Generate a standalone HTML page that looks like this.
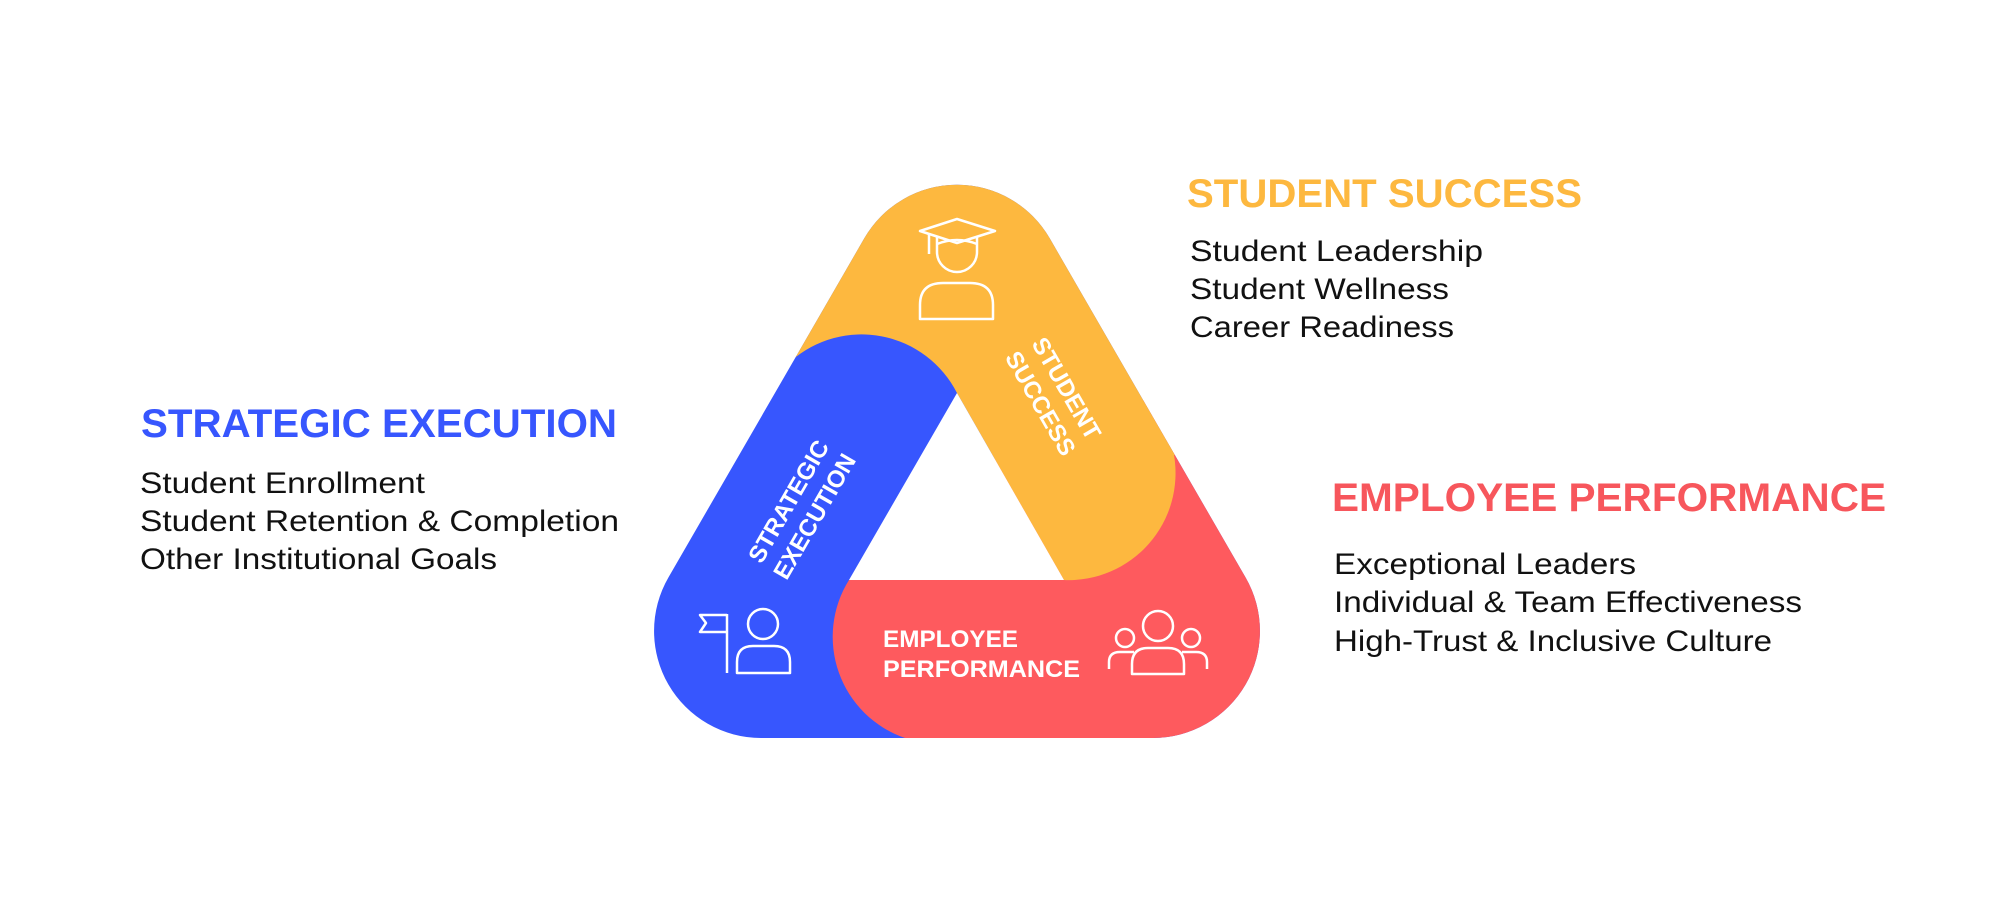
<!DOCTYPE html>
<html><head><meta charset="utf-8"><style>
html,body{margin:0;padding:0;background:#fff;}
svg{display:block;}
text{font-family:"Liberation Sans",sans-serif;}
</style></head><body>
<svg width="2000" height="903" viewBox="0 0 2000 903" xmlns="http://www.w3.org/2000/svg">
<defs>
<clipPath id="outer">
<path d="M864.3 238.3 A107 107 0 0 1 1049.7 238.3 L1245.6 577.5 A107 107 0 0 1 1152.9 738 L761.1 738 A107 107 0 0 1 668.4 577.5 Z"/>
</clipPath>
</defs>
<g clip-path="url(#outer)">
<rect x="600" y="150" width="800" height="650" fill="#3756FE"/>
<path d="M849 580 A107 107 0 0 0 905 738 L905 800 L1400 800 L1400 400 L1064 400 Z" fill="#FE5A5E"/>
<path d="M957 393 A107 107 0 0 0 791 361 L740 380 L740 100 L1400 100 L1400 455 L1174 455 A107 107 0 0 1 1064 580 Z" fill="#FDB83F"/>
</g>
<polygon points="957,393 849,580 1064,580" fill="#fff"/>

<!-- band labels -->
<g fill="#fff" font-weight="bold" font-size="24">
<g transform="translate(1055,395) rotate(60)">
<text x="0" y="-5" text-anchor="middle">STUDENT</text>
<text x="0" y="25" text-anchor="middle">SUCCESS</text>
</g>
<g transform="translate(800,508) rotate(-60)">
<text x="0" y="-5" text-anchor="middle">STRATEGIC</text>
<text x="0" y="25" text-anchor="middle">EXECUTION</text>
</g>
<text x="883" y="647" textLength="135" lengthAdjust="spacingAndGlyphs">EMPLOYEE</text>
<text x="883" y="677" textLength="197" lengthAdjust="spacingAndGlyphs">PERFORMANCE</text>
</g>

<!-- icons -->
<g fill="none" stroke="#fff" stroke-width="2.5" stroke-linejoin="round">
<!-- grad -->
<path d="M920 231 L957 219 L995 231 L957 243 Z"/>
<line x1="929" y1="234" x2="929" y2="254"/>
<path d="M937 237 L937 252 A20 20 0 1 0 977 252 L977 237"/>
<path d="M937 244 Q957 236 977 244"/>
<path d="M920 319 L920 305 Q920 283 943 283 L970 283 Q993 283 993 305 L993 319 Z"/>
<!-- flag person -->
<line x1="727" y1="614" x2="727" y2="673"/>
<path d="M727 615 L700 615 L706 623 L700 632 L727 632"/>
<circle cx="763" cy="624" r="15"/>
<path d="M737 673 L737 662 Q737 646 753 646 L774 646 Q790 646 790 662 L790 673 Z"/>
<!-- group -->
<circle cx="1158" cy="626" r="15"/>
<path d="M1132 674 L1132 664 Q1132 648 1148 648 L1168 648 Q1184 648 1184 664 L1184 674 Z"/>
<circle cx="1125" cy="638" r="9"/>
<circle cx="1191" cy="638" r="9"/>
<path d="M1109 669 L1109 662 Q1109 652 1120 652 L1134 652"/>
<path d="M1207 669 L1207 662 Q1207 652 1196 652 L1182 652"/>
</g>

<!-- side texts -->
<text x="1187" y="207" font-size="40" font-weight="bold" fill="#FDB83F" textLength="395" lengthAdjust="spacingAndGlyphs">STUDENT SUCCESS</text>
<g font-size="30" fill="#111">
<text x="1190" y="261" textLength="293" lengthAdjust="spacingAndGlyphs">Student Leadership</text>
<text x="1190" y="299" textLength="259" lengthAdjust="spacingAndGlyphs">Student Wellness</text>
<text x="1190" y="337" textLength="264" lengthAdjust="spacingAndGlyphs">Career Readiness</text>
</g>

<text x="141" y="437" font-size="40" font-weight="bold" fill="#3756FE" textLength="476" lengthAdjust="spacingAndGlyphs">STRATEGIC EXECUTION</text>
<g font-size="30" fill="#111">
<text x="140" y="493" textLength="285" lengthAdjust="spacingAndGlyphs">Student Enrollment</text>
<text x="140" y="531" textLength="479" lengthAdjust="spacingAndGlyphs">Student Retention &amp; Completion</text>
<text x="140" y="569" textLength="357" lengthAdjust="spacingAndGlyphs">Other Institutional Goals</text>
</g>

<text x="1332" y="511" font-size="40" font-weight="bold" fill="#F7565C" textLength="554" lengthAdjust="spacingAndGlyphs">EMPLOYEE PERFORMANCE</text>
<g font-size="30" fill="#111">
<text x="1334" y="574" textLength="302" lengthAdjust="spacingAndGlyphs">Exceptional Leaders</text>
<text x="1334" y="612" textLength="468" lengthAdjust="spacingAndGlyphs">Individual &amp; Team Effectiveness</text>
<text x="1334" y="651" textLength="438" lengthAdjust="spacingAndGlyphs">High-Trust &amp; Inclusive Culture</text>
</g>
</svg>
</body></html>
